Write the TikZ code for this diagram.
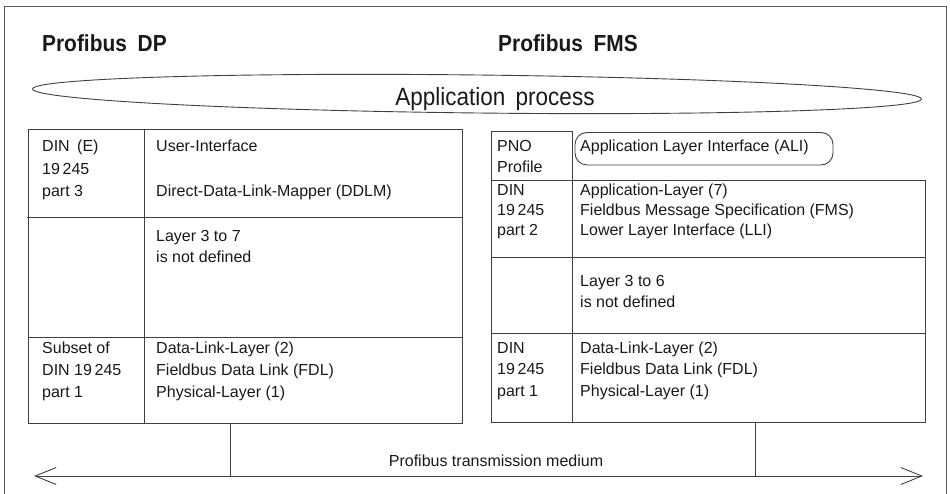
\documentclass[tikz,border=0pt]{standalone}
\usepackage{fontspec}
\setmainfont{Liberation Sans}
\newfontfamily\headfont[FakeStretch=0.9]{Liberation Sans}
\usetikzlibrary{arrows.meta}

\begin{document}
\begin{tikzpicture}[x=1pt,y=-1pt,
  ln/.style={draw=black!75, line width=0.9pt},
  txt/.style={anchor=base west, inner sep=0pt, font=\fontsize{16}{19}\selectfont, text=black!90},
  ttl/.style={anchor=base west, inner sep=0pt, font=\headfont\bfseries\fontsize{23.2}{27}\selectfont, text=black!90},
  bartip/.tip={Straight Barb[length=21pt,width=17pt]},
]
\useasboundingbox (0,0) rectangle (950,494);

% outer frame, open at the bottom
\draw[draw=black!65, line width=1pt] (4.5,494) -- (4.5,7) -- (946,7) -- (946,494);

% headings
\node[ttl] (dp) at (42,52) {Profibus\hspace{5pt} DP};
\node[ttl] (fms) at (498,52) {Profibus\hspace{5pt} FMS};

% application process
\coordinate (apc) at (477,94);
\draw[ln, rotate around={-0.65:(apc)}] (apc) ellipse [x radius=444.5pt, y radius=19pt];
\node[anchor=base, inner sep=0pt, font=\headfont\fontsize{25}{28}\selectfont, text=black!90] (apt) at (495,106) {Application\hspace{4pt} process};

% ---- DP stack ----
\draw[ln] (28,129) rectangle (462,423);
\draw[ln] (144,129) -- (144,423);
\draw[ln] (27,217) -- (462,217);
\draw[ln] (28,337) -- (462,337);

\node[txt] (dpa1) at (42,152) {DIN\hspace{3pt} (E)};
\node[txt] (dpa2) at (42,174.5) {19\,245};
\node[txt] (dpa3) at (42,197) {part 3};
\node[txt] (dpb1) at (156,152) {User-Interface};
\node[txt] (dpb2) at (156,197) {Direct-Data-Link-Mapper (DDLM)};
\node[txt] (dpc1) at (156,242) {Layer 3 to 7};
\node[txt] (dpc2) at (156,263) {is not defined};
\node[txt] (dpd1) at (42,353) {Subset of};
\node[txt] (dpd2) at (42,375) {DIN 19\,245};
\node[txt] (dpd3) at (42,397) {part 1};
\node[txt] (dpe1) at (156,353) {Data-Link-Layer (2)};
\node[txt] (dpe2) at (156,375) {Fieldbus Data Link (FDL)};
\node[txt] (dpe3) at (156,397) {Physical-Layer (1)};

% ---- FMS stack ----
\draw[ln] (491,131.5) -- (572,131.5);
\draw[ln] (491,131.5) -- (491,422) -- (925,422) -- (925,180) -- (491,180);
\draw[ln] (572,131.5) -- (572,422);
\draw[ln] (491,257) -- (925,257);
\draw[ln] (491,333) -- (925,333);
\draw[ln, rounded corners=12pt] (575,132.5) rectangle (833,165);

\node[txt] (fa1) at (497,152) {PNO};
\node[txt] (fa2) at (497,173) {Profile};
\node[txt] (fali) at (580,152) {Application Layer Interface (ALI)};
\node[txt] (fb1) at (497,196) {DIN};
\node[txt] (fb2) at (497,216) {19\,245};
\node[txt] (fb3) at (497,236) {part 2};
\node[txt] (fc1) at (580,196) {Application-Layer (7)};
\node[txt] (fc2) at (580,216) {Fieldbus Message Specification (FMS)};
\node[txt] (fc3) at (580,236) {Lower Layer Interface (LLI)};
\node[txt] (fd1) at (580,287) {Layer 3 to 6};
\node[txt] (fd2) at (580,308) {is not defined};
\node[txt] (fe1) at (497,353) {DIN};
\node[txt] (fe2) at (497,374.5) {19\,245};
\node[txt] (fe3) at (497,396) {part 1};
\node[txt] (ff1) at (580,353) {Data-Link-Layer (2)};
\node[txt] (ff2) at (580,374.5) {Fieldbus Data Link (FDL)};
\node[txt] (ff3) at (580,396) {Physical-Layer (1)};

% ---- transmission medium ----
\coordinate (busL) at (34,476);
\coordinate (busR) at (923,476);
\coordinate (dpbot) at (230,423);
\coordinate (dptap) at (230,476);
\coordinate (fmsbot) at (755,422);
\coordinate (fmstap) at (755,476);
\draw[ln, {bartip}-{bartip}] (busL) -- (busR);
\draw[ln] (dpbot) -- (dptap);
\draw[ln] (fmsbot) -- (fmstap);
\node[anchor=base, inner sep=0pt, font=\fontsize{16}{19}\selectfont, text=black!90] (bus) at (496,466) {Profibus transmission medium};
\end{tikzpicture}
\end{document}
